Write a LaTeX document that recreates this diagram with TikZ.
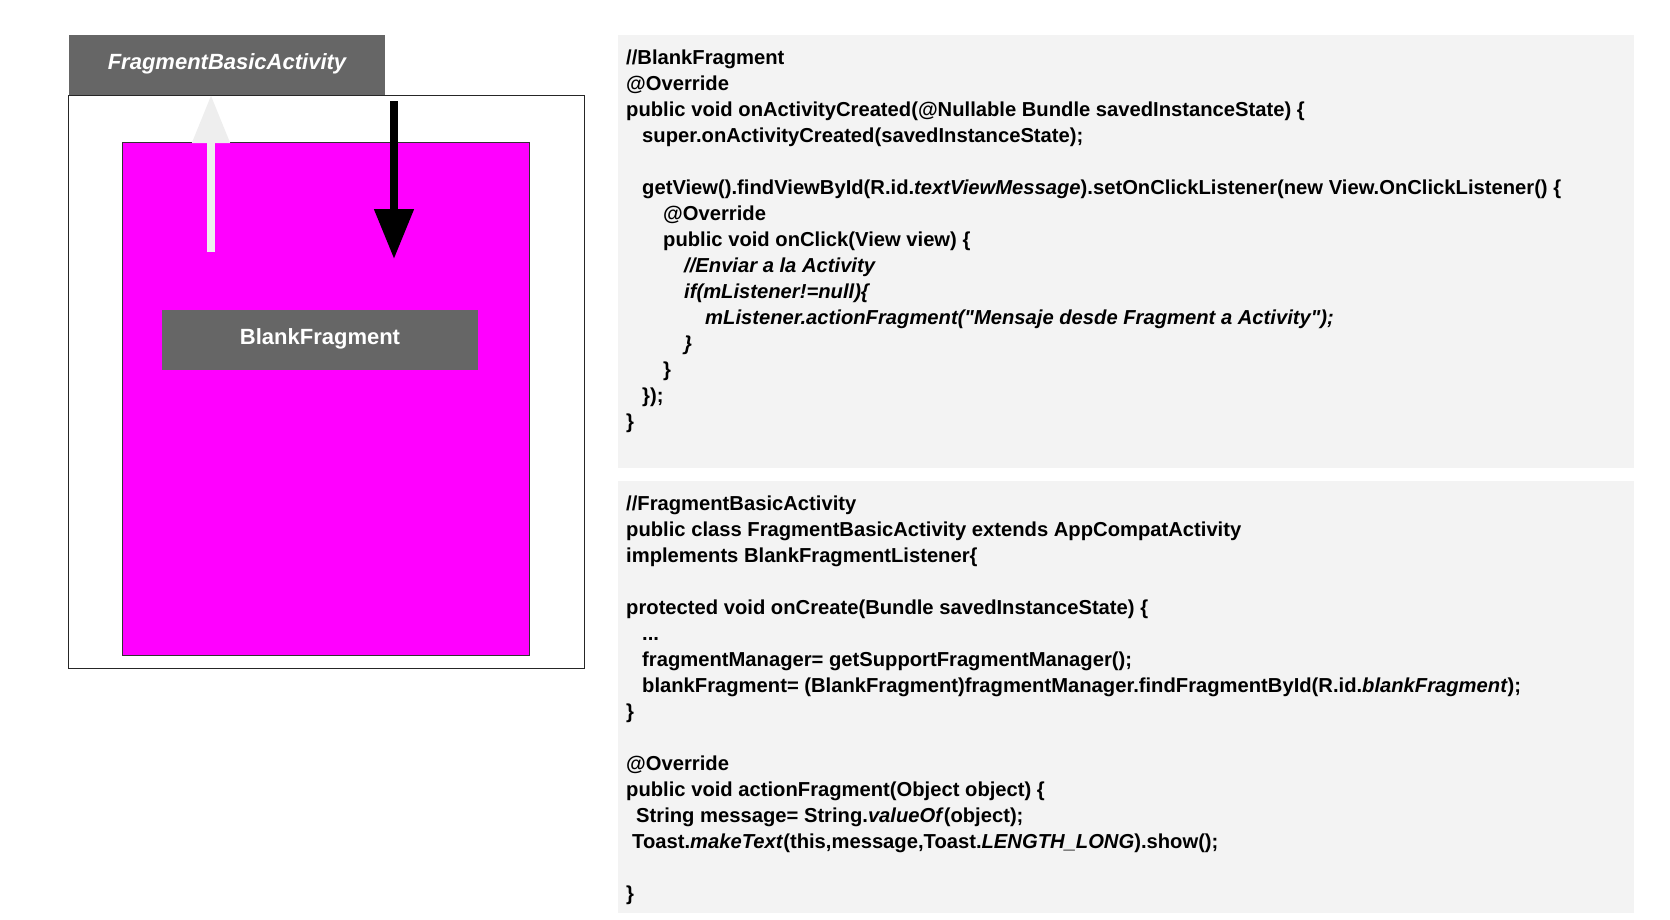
\documentclass[tikz,border=0pt]{standalone}
\usepackage{fontspec}
\setmainfont{Liberation Sans}[Ligatures=TeXOff]
\definecolor{boxgray}{HTML}{666666}
\definecolor{codebg}{HTML}{F3F3F3}
\definecolor{fragpink}{HTML}{FF00FF}
\definecolor{arrowwhite}{HTML}{EEEEEE}
\usetikzlibrary{calc, positioning, arrows.meta}

\begin{document}
\begin{tikzpicture}[x=1pt, y=-1pt,
  panel/.style={anchor=north west, inner sep=0pt, outer sep=0pt},
  namebox/.style={panel, fill=boxgray, text=white, font=\bfseries\fontsize{22}{26}\selectfont},
  codebox/.style={panel, fill=codebg, minimum width=1016pt},
  code/.style={anchor=north west, align=left, inner sep=0pt, font=\bfseries\fontsize{20.2}{26}\selectfont}]
  \useasboundingbox (0,0) rectangle (1670,919);

  % left: activity with its fragment
  \node[panel, draw=black!85, line width=1pt, minimum width=516pt, minimum height=573pt] (activity) at (68,95) {};
  \node[namebox, minimum width=316pt, minimum height=60pt] (activitytitle) at (69,35) {\raisebox{7pt}{\itshape FragmentBasicActivity}};
  \node[panel, fill=fragpink, draw=black!80, line width=0.8pt, minimum width=407pt, minimum height=513pt] (fragment) at (122,142) {};
  \node[namebox, minimum width=316pt, minimum height=60pt] (fragmenttitle) at (162,310) {\raisebox{7pt}{BlankFragment}};

  % fragment -> activity, activity -> fragment
  \coordinate (uptail) at (211,252);
  \coordinate (downtop) at (394,101);
  \coordinate (downtip) at (394,259);
  \draw[arrowwhite, line width=8pt, -{Triangle[length=48pt, width=36pt]}] (uptail) -- (uptail |- activitytitle.south);
  \draw[black, line width=8pt, -{Triangle[length=50pt, width=38pt]}] (downtop) -- (downtip);

  % right: code
  \node[codebox, minimum height=433pt] (blankbox) at (618,35) {};
  \node[codebox, minimum height=432pt] (activitybox) at (618,481) {};

  \node[code] (blankcode) at ($(blankbox.north west)+(8,11)$) {\strut//BlankFragment\\
@Override\\
public void onActivityCreated(@Nullable Bundle savedInstanceState) \{\\
\hspace*{16pt}super.onActivityCreated(savedInstanceState);\\[26pt]
\hspace*{16pt}getView().findViewById(R.id.\textit{textViewMessage}).setOnClickListener(new View.OnClickListener() \{\\
\hspace*{37pt}@Override\\
\hspace*{37pt}public void onClick(View view) \{\\
\hspace*{58pt}\textit{//Enviar a la Activity}\\
\hspace*{58pt}\textit{if(mListener!=null)\{}\\
\hspace*{79pt}\textit{mListener.actionFragment("Mensaje desde Fragment a Activity");}\\
\hspace*{58pt}\textit{\}}\\
\hspace*{37pt}\}\\
\hspace*{16pt}\});\\
\}};

  \node[code] (activitycode) at ($(activitybox.north west)+(8,11)$) {\strut//FragmentBasicActivity\\
public class FragmentBasicActivity extends AppCompatActivity\\
implements BlankFragmentListener\{\\[26pt]
protected void onCreate(Bundle savedInstanceState) \{\\
\hspace*{16pt}...\\
\hspace*{16pt}fragmentManager= getSupportFragmentManager();\\
\hspace*{16pt}blankFragment= (BlankFragment)fragmentManager.findFragmentById(R.id.\textit{blankFragment});\\
\}\\[26pt]
@Override\\
public void actionFragment(Object object) \{\\
\hspace*{10pt}String message= String.\textit{valueOf}(object);\\
\hspace*{6pt}Toast.\textit{makeText}(this,message,Toast.\textit{LENGTH\_LONG}).show();\\[26pt]
\}};
\end{tikzpicture}
\end{document}
